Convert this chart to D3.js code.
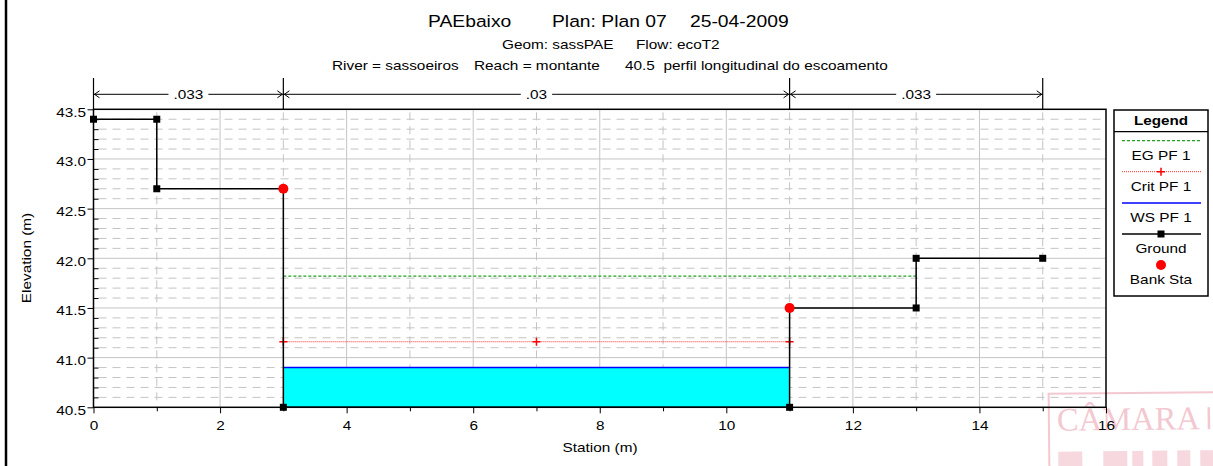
<!DOCTYPE html>
<html>
<head>
<meta charset="utf-8">
<script src="https://cdn.jsdelivr.net/npm/d3@7/dist/d3.min.js"></script>
<style>
  html, body { margin: 0; padding: 0; background: #fff; }
  svg { display: block; font-family: "Liberation Sans", Arial, sans-serif; }
</style>
</head>
<body>
<svg id="chart" width="1213" height="466"></svg>
<script>
// ---------------- DATA ----------------
const groundSta  = [0, 1, 1, 3, 3, 11, 11, 13, 13, 15];
const groundElev = [43.4, 43.4, 42.7, 42.7, 40.5, 40.5, 41.5, 41.5, 42.0, 42.0];
const bankSta  = [3, 11];
const bankElev = [42.7, 41.5];
const wsSta  = [3, 11];
const wsElev = [40.9, 40.9];
const egSta  = [3, 13];
const egElev = [41.82, 41.82];
const critSta  = [3, 7, 11];
const critElev = [41.16, 41.16, 41.16];
const nBreaks = [0, 3, 11, 15];
const nValues = [".033", ".03", ".033"];
const xMajorTicks = [0, 2, 4, 6, 8, 10, 12, 14, 16];
const xMinorTicks = [1, 3, 5, 7, 9, 11, 13, 15];
const yMajorTicks = [40.5, 41.0, 41.5, 42.0, 42.5, 43.0, 43.5];
const yMinorTicks = [40.6,40.7,40.8,40.9,41.1,41.2,41.3,41.4,41.6,41.7,41.8,41.9,
                     42.1,42.2,42.3,42.4,42.6,42.7,42.8,42.9,43.1,43.2,43.3,43.4];
const legendItems = ["EG PF 1", "Crit PF 1", "WS PF 1", "Ground", "Bank Sta"];
const titleParts = [["PAEbaixo", 428], ["Plan: Plan 07", 552], ["25-04-2009", 690]];
const subParts = [["Geom: sassPAE", 502], ["Flow: ecoT2", 636]];
const sub2Parts = [["River = sassoeiros", 332], ["Reach = montante", 474], ["40.5  perfil longitudinal do escoamento", 625]];

// ---------------- SETUP ----------------
const SX = 1.21;
const svg = d3.select("#chart");
const x = d3.scaleLinear().domain([0, 16]).range([93.5, 1106]);
const y = d3.scaleLinear().domain([40.5, 43.5]).range([407.3, 109.3]);
const X0 = x(0), X1 = x(16), Y0 = y(40.5), Y1 = y(43.5);

function txt(g, px, py, s, size, anchor, opts = {}) {
  const gg = g.append("g").attr("transform",
    `translate(${px},${py})` + (opts.rotate ? ` rotate(${opts.rotate})` : "") + ` scale(${opts.sx || SX},1)`);
  const t = gg.append("text").attr("x", 0).attr("y", 0)
    .attr("font-size", size).attr("text-anchor", anchor || "start")
    .attr("fill", opts.fill || "#000")
    .attr("font-weight", opts.bold ? "bold" : "normal")
    .style("white-space", "pre")
    .text(s);
  return t;
}

// outer frame (left thick line)
svg.append("line").attr("x1", 6).attr("x2", 6).attr("y1", 0).attr("y2", 466)
  .attr("stroke", "#000").attr("stroke-width", 2.5);

// ---------------- STAMP (watermark, behind) ----------------
const stampCol = "#e47d93";
const st = svg.append("g").attr("opacity", 0.42).attr("transform", "rotate(-0.6,1130,430)");
st.append("rect").attr("x", 1049).attr("y", 393).attr("width", 200).attr("height", 100)
  .attr("fill", "none").attr("stroke", stampCol).attr("stroke-width", 2);
st.append("text").attr("x", 1057).attr("y", 430).attr("font-family", "Liberation Serif, serif")
  .attr("font-size", 33).attr("fill", stampCol)
  .attr("textLength", 143).attr("lengthAdjust", "spacingAndGlyphs").text("CÂMARA");
st.append("line").attr("x1", 1209).attr("x2", 1209).attr("y1", 408).attr("y2", 430)
  .attr("stroke", stampCol).attr("stroke-width", 2.5);
const blocks = [[1058, 24], [1103, 24], [1132, 11], [1152, 15], [1177, 13], [1200, 13]];
st.selectAll("rect.blk").data(blocks).join("rect")
  .attr("x", d => d[0]).attr("y", 451).attr("width", d => d[1]).attr("height", 16)
  .attr("fill", stampCol).attr("opacity", 0.7);

// ---------------- TITLES ----------------
titleParts.forEach(([s, px]) => txt(svg, px, 27, s, 16.5, "start", {sx: 1.17}));
subParts.forEach(([s, px]) => txt(svg, px, 49, s, 12.7, "start"));
sub2Parts.forEach(([s, px]) => txt(svg, px, 70, s, 12.7, "start"));

// ---------------- GRID ----------------
const grid = svg.append("g");
grid.selectAll("line.vmaj").data(xMajorTicks.filter(d => d > 0 && d < 16)).join("line")
  .attr("x1", d => x(d)).attr("x2", d => x(d)).attr("y1", Y1).attr("y2", Y0)
  .attr("stroke", "#c4c4c4").attr("stroke-width", 1);
grid.selectAll("line.vmin").data(xMinorTicks).join("line")
  .attr("x1", d => x(d)).attr("x2", d => x(d)).attr("y1", Y1 + 3).attr("y2", Y0)
  .attr("stroke", "#c4c4c4").attr("stroke-width", 1).attr("stroke-dasharray", "8,6");
grid.selectAll("line.hmaj").data(yMajorTicks.filter(d => d > 40.5 && d < 43.5)).join("line")
  .attr("x1", X0).attr("x2", X1).attr("y1", d => y(d)).attr("y2", d => y(d))
  .attr("stroke", "#c4c4c4").attr("stroke-width", 1);
grid.selectAll("line.hmin").data(yMinorTicks).join("line")
  .attr("x1", X0 + 5).attr("x2", X1).attr("y1", d => y(d)).attr("y2", d => y(d))
  .attr("stroke", "#c4c4c4").attr("stroke-width", 1).attr("stroke-dasharray", "8,6");

// ---------------- DATA MARKS ----------------
const data = svg.append("g");
const wsPts = wsSta.map((s, i) => [s, wsElev[i]]);
data.append("path").datum(wsPts)
  .attr("d", d3.area().x(d => x(d[0])).y0(y(40.5)).y1(d => y(d[1])))
  .attr("fill", "#00ffff");
data.append("path").datum(egSta.map((s, i) => [s, egElev[i]]))
  .attr("d", d3.line().x(d => x(d[0])).y(d => y(d[1])))
  .attr("stroke", "#22a022").attr("stroke-width", 1.2).attr("stroke-dasharray", "3,2").attr("fill", "none");
const critPts = critSta.map((s, i) => [s, critElev[i]]);
data.append("path").datum(critPts)
  .attr("d", d3.line().x(d => x(d[0])).y(d => y(d[1])))
  .attr("stroke", "#ff3030").attr("stroke-width", 1).attr("stroke-dasharray", "1,1").attr("fill", "none");
data.selectAll("path.cross").data(critPts).join("path")
  .attr("transform", d => `translate(${x(d[0])},${y(d[1])})`)
  .attr("fill", "none").attr("stroke", "#ff0000").attr("stroke-width", 1.5)
  .attr("d", "M-4,0H4M0,-4V4");
data.append("path").datum(wsPts)
  .attr("d", d3.line().x(d => x(d[0])).y(d => y(d[1])))
  .attr("stroke", "#0000ff").attr("stroke-width", 1.5).attr("fill", "none");
const gPts = groundSta.map((s, i) => [s, groundElev[i]]);
data.append("path").datum(gPts)
  .attr("d", d3.line().x(d => x(d[0])).y(d => y(d[1])))
  .attr("stroke", "#000").attr("stroke-width", 1.5).attr("fill", "none");
data.selectAll("rect.gm").data(gPts).join("rect")
  .attr("x", d => x(d[0]) - 3.5).attr("y", d => y(d[1]) - 3.5)
  .attr("width", 7).attr("height", 7).attr("fill", "#000");
data.selectAll("circle.bank").data(bankSta.map((s, i) => [s, bankElev[i]])).join("circle")
  .attr("cx", d => x(d[0])).attr("cy", d => y(d[1])).attr("r", 5).attr("fill", "#ff0000");

// ---------------- AXES ----------------
const axL = svg.append("g").attr("transform", `translate(${X0},0)`)
  .call(d3.axisLeft(y).tickValues(yMajorTicks).tickSize(6).tickSizeOuter(0).tickFormat(d3.format(".1f")));
const axLm = svg.append("g").attr("transform", `translate(${X0},0)`)
  .call(d3.axisRight(y).tickValues(yMinorTicks).tickSize(5).tickSizeOuter(0).tickFormat(""));
const axB = svg.append("g").attr("transform", `translate(0,${Y0})`)
  .call(d3.axisBottom(x).tickValues(xMajorTicks).tickSize(6).tickSizeOuter(0).tickFormat(d3.format("d")));
const axBm = svg.append("g").attr("transform", `translate(0,${Y0})`)
  .call(d3.axisBottom(x).tickValues(xMinorTicks).tickSize(4).tickSizeOuter(0).tickFormat(""));
[axL, axLm, axB, axBm].forEach(a => {
  a.select(".domain").remove();
  a.selectAll("line").attr("stroke", "#000");
});
axL.selectAll("text").attr("font-size", 12.7).attr("font-family", "Liberation Sans, Arial, sans-serif")
  .attr("fill", "#000").attr("x", -7.5 / SX).attr("dy", "0.55em").attr("transform", `scale(${SX},1)`);
axB.selectAll("text").attr("font-size", 12.7).attr("font-family", "Liberation Sans, Arial, sans-serif")
  .attr("fill", "#000").attr("y", 0).attr("dy", 0)
  .attr("transform", `translate(0,22.5) scale(${SX},1)`);

// plot frame
svg.append("rect").attr("x", X0).attr("y", Y1).attr("width", X1 - X0).attr("height", Y0 - Y1)
  .attr("fill", "none").attr("stroke", "#000").attr("stroke-width", 1.5);

// axis titles
txt(svg, 600, 452, "Station (m)", 12.7, "middle");
txt(svg, 31, 258, "Elevation (m)", 12.7, "middle", {rotate: -90});

// ---------------- MANNING n ANNOTATION ----------------
const ann = svg.append("g");
const annY = 94.3;
ann.selectAll("line.nb").data(nBreaks).join("line")
  .attr("x1", d => x(d)).attr("x2", d => x(d)).attr("y1", 78).attr("y2", Y1)
  .attr("stroke", "#000").attr("stroke-width", 1.2);
nValues.forEach((v, i) => {
  const a = x(nBreaks[i]), b = x(nBreaks[i + 1]), m = (a + b) / 2;
  const t = txt(ann, m, annY + 5, v, 12.7, "middle");
  const w = t.node().getComputedTextLength() * SX;
  ann.append("line").attr("x1", a).attr("x2", m - w / 2 - 5).attr("y1", annY).attr("y2", annY)
    .attr("stroke", "#000").attr("stroke-width", 1);
  ann.append("line").attr("x1", m + w / 2 + 5).attr("x2", b).attr("y1", annY).attr("y2", annY)
    .attr("stroke", "#000").attr("stroke-width", 1);
  ann.append("path").attr("d", `M${a + 6},${annY - 3.5}L${a + 1},${annY}L${a + 6},${annY + 3.5}`)
    .attr("fill", "none").attr("stroke", "#000").attr("stroke-width", 1);
  ann.append("path").attr("d", `M${b - 6},${annY - 3.5}L${b - 1},${annY}L${b - 6},${annY + 3.5}`)
    .attr("fill", "none").attr("stroke", "#000").attr("stroke-width", 1);
});

// ---------------- LEGEND ----------------
const lg = svg.append("g");
const LX = 1114, LY = 110, LW = 94, LH = 186, LC = LX + LW / 2;
lg.append("rect").attr("x", LX).attr("y", LY).attr("width", LW).attr("height", LH)
  .attr("fill", "#fff").attr("stroke", "#000").attr("stroke-width", 1.5);
lg.append("line").attr("x1", LX).attr("x2", LX + LW).attr("y1", 131.7).attr("y2", 131.7)
  .attr("stroke", "#000").attr("stroke-width", 1.2);
txt(lg, LC, 125, "Legend", 12.7, "middle", {bold: true, sx: 1.2});
const lx1 = 1122, lx2 = 1201;
const symY = [140.7, 171.7, 203, 234, 265];
const textY = [160, 191, 221.7, 252.7, 284.3];
lg.append("line").attr("x1", lx1).attr("x2", lx2).attr("y1", symY[0]).attr("y2", symY[0])
  .attr("stroke", "#22a022").attr("stroke-width", 1.2).attr("stroke-dasharray", "3,2");
lg.append("line").attr("x1", lx1).attr("x2", lx2).attr("y1", symY[1]).attr("y2", symY[1])
  .attr("stroke", "#ff3030").attr("stroke-width", 1).attr("stroke-dasharray", "1,1");
lg.append("path").attr("d", `M${LC - 4},${symY[1]}H${LC + 4}M${LC},${symY[1] - 4}V${symY[1] + 4}`)
  .attr("stroke", "#ff0000").attr("stroke-width", 1.5);
lg.append("line").attr("x1", lx1).attr("x2", lx2).attr("y1", symY[2]).attr("y2", symY[2])
  .attr("stroke", "#0000ff").attr("stroke-width", 1.5);
lg.append("line").attr("x1", lx1).attr("x2", lx2).attr("y1", symY[3]).attr("y2", symY[3])
  .attr("stroke", "#000").attr("stroke-width", 1.5);
lg.append("rect").attr("x", LC - 3.5).attr("y", symY[3] - 3.5).attr("width", 7).attr("height", 7).attr("fill", "#000");
lg.append("circle").attr("cx", LC).attr("cy", symY[4]).attr("r", 5).attr("fill", "#ff0000");
legendItems.forEach((s, i) => txt(lg, LC, textY[i], s, 12.7, "middle"));
</script>
</body>
</html>
